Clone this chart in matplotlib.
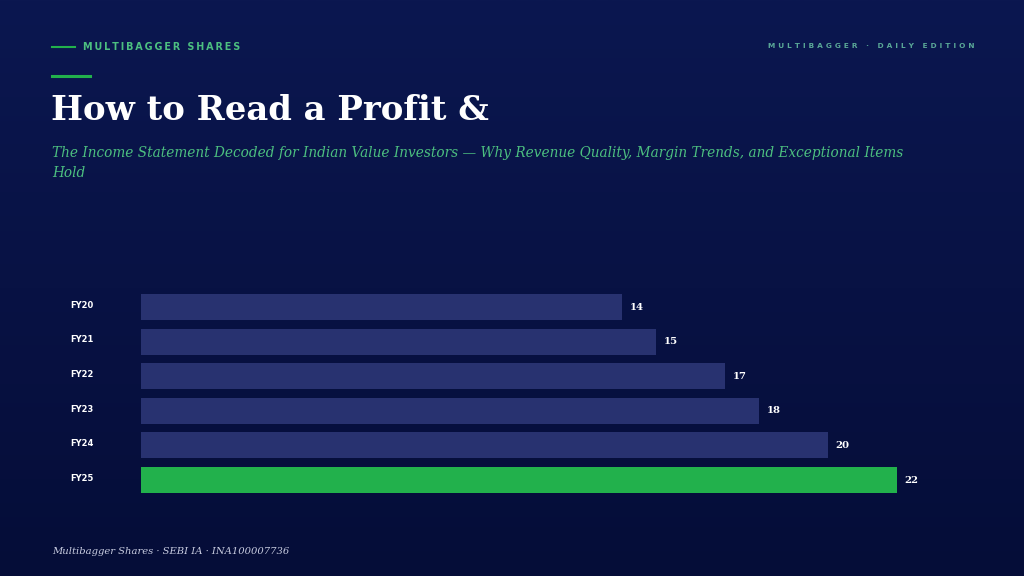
import numpy as np
import matplotlib
import matplotlib.pyplot as plt
from matplotlib.colors import LinearSegmentedColormap

matplotlib.use('Agg')

years = ['FY20', 'FY21', 'FY22', 'FY23', 'FY24', 'FY25']
values = [14, 15, 17, 18, 20, 22]
highlight = 'FY25'

BG_TOP = '#0b1750'
BG_BOT = '#050d38'
BAR = '#283270'
GREEN = '#22b14c'
GREEN_TXT = '#4cbf80'
W, H = 1024, 576


def spaced(s, sep='\u2009'):
    return sep.join(s)


fig = plt.figure(figsize=(W / 100, H / 100), dpi=100)

# background gradient
bg = fig.add_axes([0, 0, 1, 1], zorder=-10)
grad = np.linspace(0, 1, 256).reshape(-1, 1)
cmap = LinearSegmentedColormap.from_list('bg', [BG_TOP, BG_BOT])
bg.imshow(grad, aspect='auto', cmap=cmap, extent=[0, 1, 0, 1])
bg.axis('off')

# header decoration
fig.add_artist(plt.Line2D([52 / W, 75 / W], [1 - 47 / H] * 2, color=GREEN, lw=1.5))
fig.text(83 / W, 1 - 47 / H, spaced('MULTIBAGGER SHARES'), color=GREEN_TXT,
         fontsize=6.9, fontweight='bold', family='DejaVu Sans', va='center', ha='left')
fig.text(974 / W, 1 - 46 / H, spaced('MULTIBAGGER · DAILY EDITION', '\u2009\u2009'),
         color='#5aa897', fontsize=5.3, fontweight='bold', family='DejaVu Sans',
         va='center', ha='right')
fig.add_artist(plt.Line2D([52 / W, 90 / W], [1 - 76 / H] * 2, color=GREEN, lw=2.2))

fig.text(51 / W, 1 - 111 / H, 'How to Read a Profit &', color='white', fontsize=24.4,
         fontweight='bold', family='DejaVu Serif', va='center', ha='left')
sub_lines = ['The Income Statement Decoded for Indian Value Investors \u2014 Why Revenue Quality, Margin Trends, and Exceptional Items',
             'Hold']
for i, line in enumerate(sub_lines):
    fig.text(52 / W, 1 - (153 + 20 * i) / H, line, color=GREEN_TXT, fontsize=9.8,
             style='italic', family='DejaVu Serif', va='center', ha='left')

# bar chart
ax_left = 141 / W
ax_right = 1000 / W
ax_top = 1 - 289.7 / H
ax_bot = 1 - 497.3 / H
ax = fig.add_axes([ax_left, ax_bot, ax_right - ax_left, ax_top - ax_bot])
ax.set_facecolor('none')
y = np.arange(len(years))
colors = [GREEN if yr == highlight else BAR for yr in years]
ax.barh(y, values, height=0.75, color=colors)
ax.set_xlim(0, 25)
ax.set_ylim(len(years) - 0.5, -0.5)
for yi, v in zip(y, values):
    ax.text(v + 0.22, yi, str(v), color='white', fontsize=7.3, fontweight='bold',
            family='DejaVu Serif', va='center', ha='left')
ax.set_yticks(y - 0.08)
ax.set_yticklabels(years, color='white', fontsize=6, fontweight='bold')
ax.tick_params(axis='y', length=0, pad=51)
for lbl in ax.get_yticklabels():
    lbl.set_horizontalalignment('left')
ax.set_xticks([])
for s in ax.spines.values():
    s.set_visible(False)

fig.text(52 / W, 1 - 551 / H, 'Multibagger Shares · SEBI IA · INA100007736',
         color='#c8cce0', fontsize=7.2, style='italic', family='DejaVu Serif',
         va='center', ha='left')

fig.savefig('out.png', dpi=100)
